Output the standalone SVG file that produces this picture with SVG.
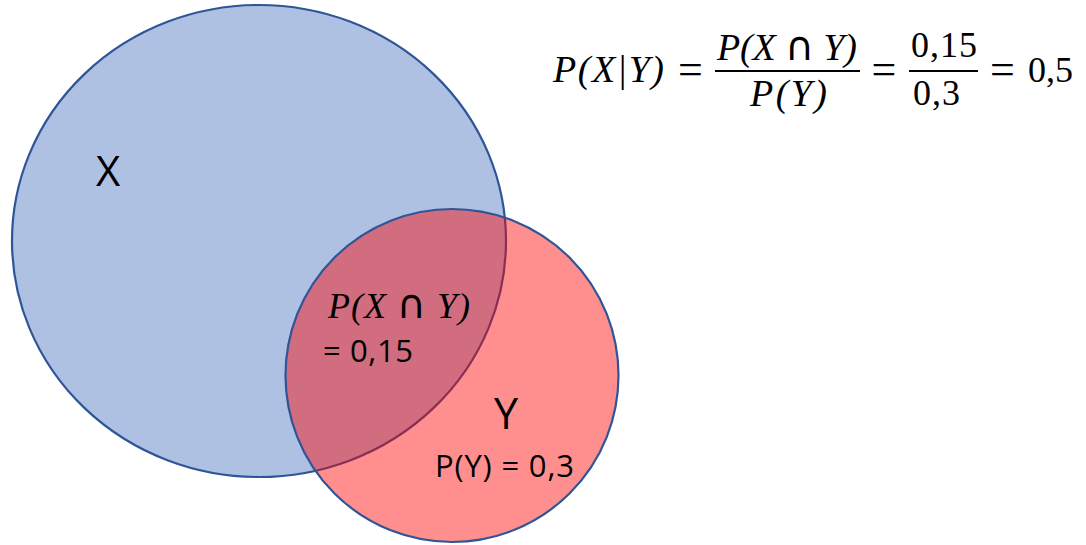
<svg xmlns="http://www.w3.org/2000/svg" width="1086" height="545" viewBox="0 0 1086 545">
  <style>
    .setX { fill: #AFC1E3; stroke: #2F5597; stroke-width: 2.2; }
    .setY { fill: #FF0000; fill-opacity: 0.44; stroke: #2F5597; stroke-width: 2.2; }
    .lbl { font-family: "Open Sans", "Liberation Sans", sans-serif; fill: #000; }
    .math { font-family: "Liberation Serif", "DejaVu Serif", serif; font-style: italic; fill: #000; }
    .up { font-style: normal; }
    .cap { font-style: normal; font-family: "DejaVu Sans", sans-serif; }
    .bar { stroke: #000; stroke-width: 2; }
  </style>
  <rect width="1086" height="545" fill="#FFFFFF"/>
  <g id="setX">
    <ellipse class="setX" cx="259" cy="241" rx="247" ry="236"/>
    <text class="lbl" x="96" y="186" font-size="42">X</text>
  </g>
  <g id="setY">
    <circle class="setY" cx="452" cy="375.5" r="166.5"/>
    <text class="lbl" x="494" y="429" font-size="43">Y</text>
    <text class="lbl" x="435" y="477" font-size="31" textLength="139" lengthAdjust="spacing">P(Y) = 0,3</text>
  </g>
  <g id="intersection">
    <text class="math" x="328" y="318" font-size="36" textLength="142" lengthAdjust="spacing">P(X <tspan class="cap" font-size="40">∩</tspan> Y)</text>
    <text class="lbl" x="323" y="362" font-size="31" textLength="90" lengthAdjust="spacing">= 0,15</text>
  </g>
  <g id="formula">
    <text class="math" x="553" y="82" font-size="38" textLength="111" lengthAdjust="spacing">P(X|Y)</text>
    <text class="math up" x="690.5" y="84" font-size="44" text-anchor="middle">=</text>
    <text class="math" x="717" y="60" font-size="38" textLength="140" lengthAdjust="spacing">P(X <tspan class="cap" font-size="40">∩</tspan> Y)</text>
    <line class="bar" x1="715" y1="71" x2="860" y2="71"/>
    <text class="math" x="750" y="106" font-size="38" textLength="77" lengthAdjust="spacing">P(Y)</text>
    <text class="math up" x="884" y="84" font-size="44" text-anchor="middle">=</text>
    <text class="math up" x="911" y="57" font-size="36" textLength="66" lengthAdjust="spacing">0,15</text>
    <line class="bar" x1="909" y1="71" x2="978" y2="71"/>
    <text class="math up" x="913" y="105" font-size="36" textLength="47" lengthAdjust="spacing">0,3</text>
    <text class="math up" x="1002.5" y="84" font-size="44" text-anchor="middle">=</text>
    <text class="math up" x="1028" y="82" font-size="36" textLength="45" lengthAdjust="spacing">0,5</text>
  </g>
  <g id="connectors"/>
</svg>
